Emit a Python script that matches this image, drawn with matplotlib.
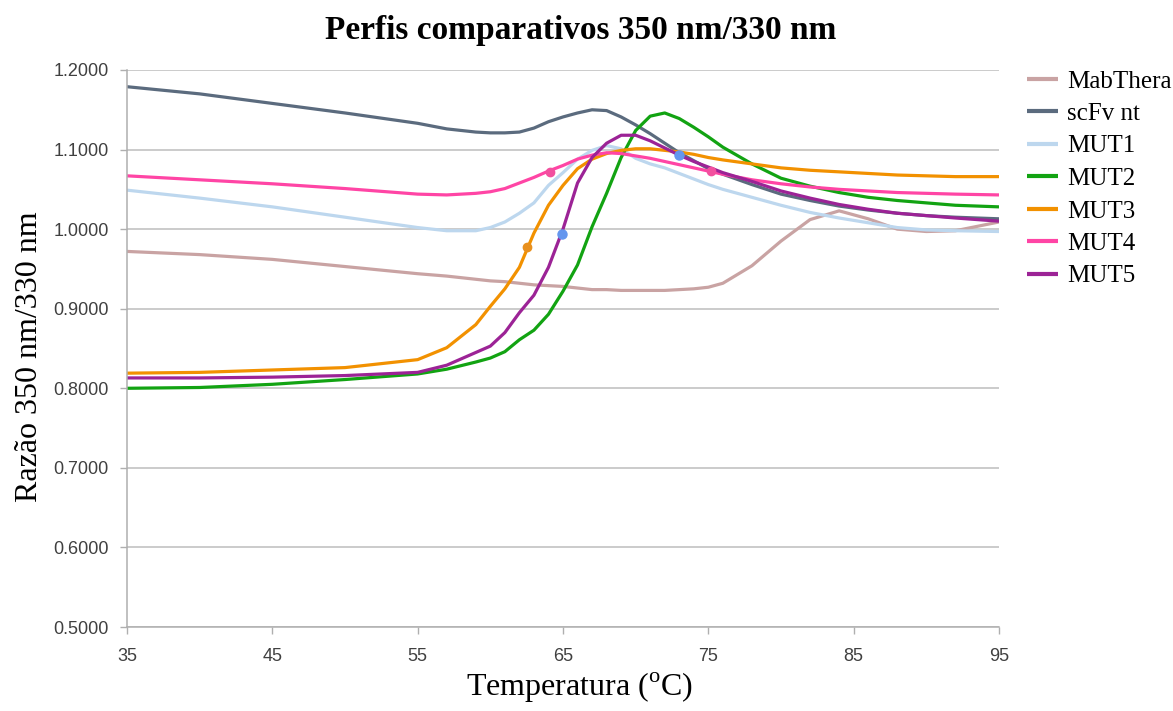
import matplotlib
matplotlib.use("Agg")
import matplotlib.pyplot as plt
from matplotlib.ticker import FormatStrFormatter

plt.rcParams['mathtext.fontset'] = 'custom'
plt.rcParams['mathtext.rm'] = 'Liberation Serif'

# --- dados ---
temperatura = [35, 40, 45, 50, 55, 57, 59, 60, 61, 62, 63, 64, 65, 66, 67, 68, 69, 70,
               71, 72, 73, 74, 75, 76, 78, 80, 82, 84, 86, 88, 90, 92, 95]

mabthera = [0.972, 0.968, 0.962, 0.953, 0.944, 0.941, 0.937, 0.935, 0.934, 0.932, 0.930,
            0.929, 0.928, 0.926, 0.924, 0.924, 0.923, 0.923, 0.923, 0.923, 0.924, 0.925,
            0.927, 0.932, 0.954, 0.985, 1.012, 1.023, 1.013, 1.000, 0.997, 0.998, 1.009]
scfv_nt = [1.179, 1.170, 1.158, 1.146, 1.133, 1.126, 1.122, 1.121, 1.121, 1.122, 1.127,
           1.135, 1.141, 1.146, 1.150, 1.149, 1.141, 1.131, 1.120, 1.108, 1.096, 1.086,
           1.076, 1.069, 1.056, 1.044, 1.036, 1.029, 1.024, 1.020, 1.017, 1.015, 1.013]
mut1 = [1.049, 1.039, 1.028, 1.015, 1.002, 0.998, 0.998, 1.002, 1.009, 1.020, 1.033,
        1.055, 1.071, 1.088, 1.099, 1.105, 1.101, 1.089, 1.082, 1.077, 1.070, 1.063,
        1.056, 1.050, 1.040, 1.030, 1.021, 1.014, 1.008, 1.002, 0.999, 0.998, 0.997]
mut2 = [0.800, 0.801, 0.805, 0.811, 0.818, 0.824, 0.833, 0.838, 0.846, 0.861, 0.873,
        0.893, 0.922, 0.955, 1.003, 1.045, 1.090, 1.124, 1.142, 1.146, 1.139, 1.128,
        1.116, 1.103, 1.082, 1.064, 1.054, 1.046, 1.040, 1.036, 1.033, 1.030, 1.028]
mut3 = [0.819, 0.820, 0.823, 0.826, 0.836, 0.851, 0.880, 0.903, 0.925, 0.952, 0.995,
        1.030, 1.055, 1.076, 1.088, 1.095, 1.099, 1.101, 1.101, 1.099, 1.097, 1.094,
        1.090, 1.087, 1.082, 1.077, 1.074, 1.072, 1.070, 1.068, 1.067, 1.066, 1.066]
mut4 = [1.067, 1.062, 1.057, 1.051, 1.044, 1.043, 1.045, 1.047, 1.051, 1.058, 1.065,
        1.073, 1.080, 1.088, 1.093, 1.096, 1.095, 1.092, 1.089, 1.085, 1.081, 1.077,
        1.073, 1.069, 1.062, 1.057, 1.053, 1.050, 1.048, 1.046, 1.045, 1.044, 1.043]
mut5 = [0.813, 0.813, 0.814, 0.816, 0.820, 0.829, 0.845, 0.853, 0.870, 0.895, 0.917,
        0.952, 1.000, 1.058, 1.090, 1.108, 1.118, 1.118, 1.111, 1.102, 1.093, 1.085,
        1.078, 1.071, 1.060, 1.048, 1.039, 1.031, 1.025, 1.020, 1.017, 1.014, 1.010]

series = [
    ('MabThera', mabthera, '#C9A3A3'),
    ('scFv nt', scfv_nt, '#5B6B7E'),
    ('MUT1', mut1, '#BDD7EE'),
    ('MUT2', mut2, '#12A312'),
    ('MUT3', mut3, '#F29100'),
    ('MUT4', mut4, '#FF45A5'),
    ('MUT5', mut5, '#9C2396'),
]

# marcadores (Tm) que aparecem sobre as curvas
tm_rosa_t = [64.1, 75.2]
tm_rosa_v = [1.072, 1.073]
tm_laranja_t = [62.5]
tm_laranja_v = [0.977]
tm_azul_t = [64.9, 73.0]
tm_azul_v = [0.994, 1.093]

fig = plt.figure(figsize=(11.73, 7.11), dpi=100)
ax = fig.add_axes([127/1173, 1 - 627/711, (999 - 127)/1173, (627 - 70)/711])

for nome, vals, cor in series:
    ax.plot(temperatura, vals, color=cor, lw=2.3, label=nome, solid_capstyle='butt')

ax.plot(tm_laranja_t, tm_laranja_v, 'o', color='#E8901E', ms=6, zorder=5)
ax.plot(tm_rosa_t, tm_rosa_v, 'o', color='#F2509F', ms=6, zorder=5)
ax.plot(tm_azul_t, tm_azul_v, 'o', color='#6496EE', ms=6.5, zorder=5)

ax.set_xlim(35, 95)
ax.set_ylim(0.5, 1.2)
ax.set_xticks(range(35, 96, 10))
ax.set_yticks([0.5, 0.6, 0.7, 0.8, 0.9, 1.0, 1.1, 1.2])
ax.yaxis.set_major_formatter(FormatStrFormatter('%.4f'))
ax.grid(axis='y', color='#BDBDBD', lw=1.1)
ax.set_axisbelow(True)
for s in ['top', 'right']:
    ax.spines[s].set_visible(False)
for s in ['left', 'bottom']:
    ax.spines[s].set_color('#AFAFAF')
    ax.spines[s].set_linewidth(1.1)
ax.tick_params(axis='both', colors='#AFAFAF', labelcolor='#404040', labelsize=13,
               length=5, width=1.0)
ax.tick_params(axis='x', pad=10)
ax.tick_params(axis='y', pad=8)
for lbl in ax.get_xticklabels() + ax.get_yticklabels():
    lbl.set_fontfamily('Liberation Sans')

fig.text(581/1173, 1 - 30/711, 'Perfis comparativos 350 nm/330 nm', ha='center', va='center',
         fontsize=24, fontweight='bold', family='Liberation Serif')
fig.text(30/1173, 1 - 357/711, 'Razão 350 nm/330 nm', ha='center', va='center', rotation=90,
         fontsize=23, family='Liberation Serif')
fig.text(580/1173, 1 - 688/711, 'Temperatura ($^{\\rm o}$C)', ha='center', va='center',
         fontsize=23, family='Liberation Serif')

leg = fig.legend(loc='upper left', bbox_to_anchor=(1027/1173, 1 - 70/711), frameon=False,
                 prop={'family': 'Liberation Serif', 'size': 18}, handlelength=1.25,
                 handletextpad=0.35, labelspacing=0.4, borderpad=0, borderaxespad=0)
for line in leg.get_lines():
    line.set_linewidth(3)

fig.savefig('out.png', dpi=100)
